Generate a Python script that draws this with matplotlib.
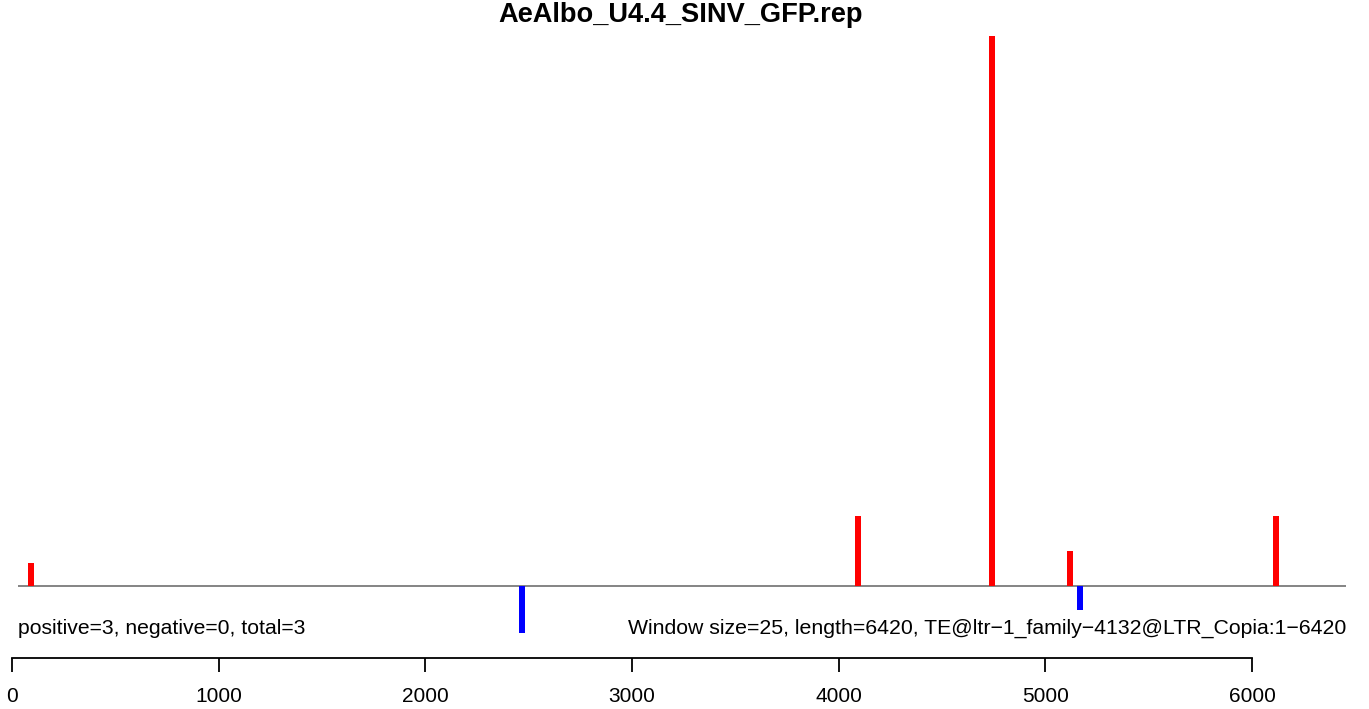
import matplotlib
matplotlib.use("Agg")
import matplotlib.pyplot as plt

plt.rcParams['font.family'] = ['Liberation Sans', 'DejaVu Sans']

title = "AeAlbo_U4.4_SINV_GFP.rep"
seq_length = 6420
window = 25

# positions along the sequence and signal (positive = red, negative = blue)
pos_x = [63, 4061, 4709, 5086, 6082]
pos_y = [1.0, 3.0, 23.4, 1.5, 3.0]
neg_x = [2437, 5134]
neg_y = [-2.0, -1.0]

axis_ticks = [0, 1000, 2000, 3000, 4000, 5000, 6000]

left_note = "positive=3, negative=0, total=3"
right_note = ("Window size=25, length=6420, "
              "TE@ltr\u22121_family\u22124132@LTR_Copia:1\u22126420")

W, H = 1369, 709
fig = plt.figure(figsize=(W / 100, H / 100), dpi=100)

# main panel: x 18..1346 px, y 30..640 px
ax = fig.add_axes([18 / W, 1 - 640 / H, (1346 - 18) / W, (640 - 30) / H])
ax.set_xlim(0, seq_length)
ax.set_ylim(-54 / 23.5, 556 / 23.5)
ax.axhline(0, color='#707070', lw=1.2, zorder=1)
ax.bar(pos_x, pos_y, width=29, color='red', zorder=2)
ax.bar(neg_x, neg_y, width=29, color='blue', zorder=2)
ax.text(0, -42 / 23.5, left_note, ha='left', va='center', fontsize=15.2)
ax.text(seq_length, -42 / 23.5, right_note, ha='right', va='center',
        fontsize=15.3)
ax.axis('off')

# title sits at the very top edge (kept just inside the canvas)
fig.text(681 / W, 1 - 2 / H, title, ha='center', va='top',
         fontsize=19.6, fontweight='bold')

# coordinate axis below
bx = fig.add_axes([12 / W, 1 - 658 / H, 1240 / W, 0.001])
bx.set_xlim(0, 6000)
for s in ['top', 'left', 'right']:
    bx.spines[s].set_visible(False)
bx.spines['bottom'].set_linewidth(1.3)
bx.set_yticks([])
bx.set_xticks(axis_ticks)
bx.tick_params(axis='x', direction='out', length=10, width=1.3,
               labelsize=15, pad=11)
bx.patch.set_visible(False)

fig.savefig("out.png", dpi=100)
